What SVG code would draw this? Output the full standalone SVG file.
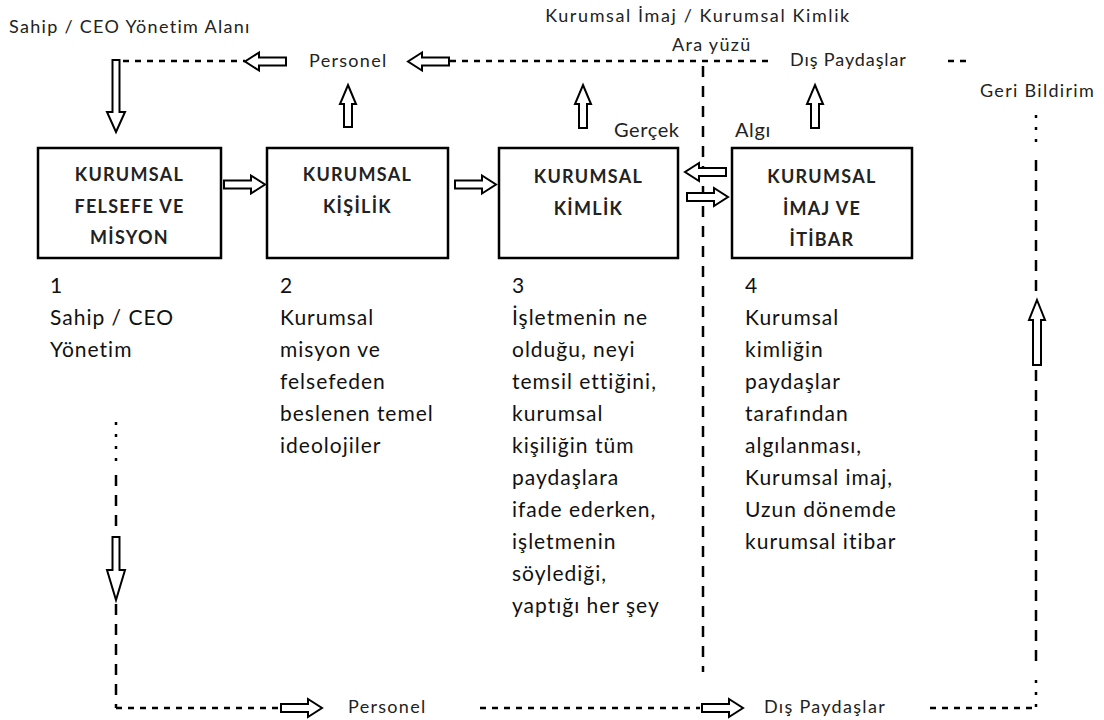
<svg xmlns="http://www.w3.org/2000/svg" width="1104" height="720" viewBox="0 0 1104 720">
  <defs>
    <style>
      .bg { fill: #ffffff; }
      .box { fill: #ffffff; stroke: #000000; stroke-width: 2.5; }
      .boxlabel { font-family: Lato, "Noto Sans", sans-serif; font-weight: 700; font-size: 18px; letter-spacing: 1.3px; fill: #222222; text-anchor: middle; }
      .desc { font-family: Lato, "Noto Sans", sans-serif; font-size: 21px; letter-spacing: 1px; fill: #111111; }
      .label { font-family: Lato, "Noto Sans", sans-serif; font-size: 18px; letter-spacing: 1.3px; fill: #222222; }
      .label-lg { font-family: Lato, "Noto Sans", sans-serif; font-size: 20px; letter-spacing: 0.6px; fill: #222222; }
      .blk { fill: #ffffff; stroke: #000000; stroke-width: 2; stroke-linejoin: miter; }
      .dash { fill: none; stroke: #000000; stroke-width: 2.5; stroke-dasharray: 6 6; }
      .vdash { fill: none; stroke: #000000; stroke-width: 2.5; stroke-dasharray: 11 9; }
      .dots { fill: none; stroke: #000000; stroke-width: 2.5; stroke-dasharray: 3 9; }
    </style>
    <!-- block arrow pointing right, 41 long, origin at tail centre -->
    <path id="arrowR" d="M0,-4 H27 V-9 L41,0 L27,9 V4 H0 Z"/>
  </defs>

  <rect class="bg" x="0" y="0" width="1104" height="720"/>

  <!-- free labels -->
  <g id="labels">
    <text class="label" x="9" y="33">Sahip / CEO Yönetim Alanı</text>
    <text class="label" x="698" y="22" text-anchor="middle" style="letter-spacing:1.6px">Kurumsal İmaj / Kurumsal Kimlik</text>
    <text class="label" x="672" y="51">Ara yüzü</text>
    <text class="label" x="309" y="67">Personel</text>
    <text class="label" x="790" y="66" style="letter-spacing:0.9px">Dış Paydaşlar</text>
    <text class="label" x="980" y="97">Geri Bildirim</text>
    <text class="label-lg" x="614" y="137">Gerçek</text>
    <text class="label-lg" x="735" y="137">Algı</text>
    <text class="label" x="348" y="713">Personel</text>
    <text class="label" x="764" y="713">Dış Paydaşlar</text>
  </g>

  <!-- connectors: dashed feedback loops and block arrows -->
  <g id="connectors">
    <path class="dash" d="M123,61 H245"/>
    <path class="dash" d="M450,61 H768"/>
    <path class="dash" d="M948,61 H972"/>
    <path class="vdash" d="M703,66 V672"/>
    <path class="dots" d="M1036,115 V150"/>
    <path class="vdash" d="M1036,160 V298"/>
    <path class="vdash" d="M1036,370 V670"/>
    <path class="dots" d="M1036,680 V708"/>
    <path class="dots" d="M116,422 V470"/>
    <path class="vdash" d="M116,475 V535"/>
    <path class="vdash" d="M116,604 V708"/>
    <path class="dash" d="M116,708 H281"/>
    <path class="dash" d="M480,708 H700"/>
    <path class="dash" d="M930,708 H1036"/>

    <!-- vertical block arrows -->
    <path class="blk" d="M112.5,60 H119.5 V112 H125 L116,132 L107,112 H112.5 Z"/>
    <path class="blk" d="M348,85 L356,104 H352 V127 H344 V104 H340 Z"/>
    <path class="blk" d="M583,85 L591,104 H587 V128 H579 V104 H575 Z"/>
    <path class="blk" d="M815,85 L823,104 H819 V128 H811 V104 H807 Z"/>
    <path class="blk" d="M1037,300 L1045,320 H1041 V365 H1033 V320 H1029 Z"/>
    <path class="blk" d="M112.5,537 H119.5 V570 H125 L116,600 L107,570 H112.5 Z"/>

    <!-- horizontal block arrows -->
    <use href="#arrowR" class="blk" transform="translate(286,61.5) scale(-1,1)"/>
    <use href="#arrowR" class="blk" transform="translate(449,61.5) scale(-1,1)"/>
    <use href="#arrowR" class="blk" transform="translate(224,184.5)"/>
    <use href="#arrowR" class="blk" transform="translate(455,184.5)"/>
    <use href="#arrowR" class="blk" transform="translate(726,172) scale(-1,1)"/>
    <use href="#arrowR" class="blk" transform="translate(687,197)"/>
    <use href="#arrowR" class="blk" transform="translate(281,708)"/>
    <use href="#arrowR" class="blk" transform="translate(702,708)"/>
  </g>

  <!-- stage 1 -->
  <g id="node-felsefe">
    <rect class="box" x="38" y="148" width="183" height="110"/>
    <text class="boxlabel" x="129.5" y="181">KURUMSAL</text>
    <text class="boxlabel" x="129.5" y="213">FELSEFE VE</text>
    <text class="boxlabel" x="129.5" y="244">MİSYON</text>
    <text class="desc" x="50" y="293">1</text>
    <text class="desc" x="50" y="325">Sahip / CEO</text>
    <text class="desc" x="50" y="357">Yönetim</text>
  </g>

  <!-- stage 2 -->
  <g id="node-kisilik">
    <rect class="box" x="267" y="148" width="181" height="110"/>
    <text class="boxlabel" x="357.5" y="181">KURUMSAL</text>
    <text class="boxlabel" x="357.5" y="213">KİŞİLİK</text>
    <text class="desc" x="280" y="293">2</text>
    <text class="desc" x="280" y="325">Kurumsal</text>
    <text class="desc" x="280" y="357">misyon ve</text>
    <text class="desc" x="280" y="389">felsefeden</text>
    <text class="desc" x="280" y="421">beslenen temel</text>
    <text class="desc" x="280" y="453">ideolojiler</text>
  </g>

  <!-- stage 3 -->
  <g id="node-kimlik">
    <rect class="box" x="499" y="148" width="179" height="110"/>
    <text class="boxlabel" x="588.5" y="183">KURUMSAL</text>
    <text class="boxlabel" x="588.5" y="215">KİMLİK</text>
    <text class="desc" x="512" y="293">3</text>
    <text class="desc" x="512" y="325">İşletmenin ne</text>
    <text class="desc" x="512" y="357">olduğu, neyi</text>
    <text class="desc" x="512" y="389">temsil ettiğini,</text>
    <text class="desc" x="512" y="421">kurumsal</text>
    <text class="desc" x="512" y="453">kişiliğin tüm</text>
    <text class="desc" x="512" y="485">paydaşlara</text>
    <text class="desc" x="512" y="517">ifade ederken,</text>
    <text class="desc" x="512" y="549">işletmenin</text>
    <text class="desc" x="512" y="581">söylediği,</text>
    <text class="desc" x="512" y="613">yaptığı her şey</text>
  </g>

  <!-- stage 4 -->
  <g id="node-imaj">
    <rect class="box" x="732" y="148" width="180" height="110"/>
    <text class="boxlabel" x="822" y="183">KURUMSAL</text>
    <text class="boxlabel" x="822" y="215">İMAJ VE</text>
    <text class="boxlabel" x="822" y="246">İTİBAR</text>
    <text class="desc" x="745" y="293">4</text>
    <text class="desc" x="745" y="325">Kurumsal</text>
    <text class="desc" x="745" y="357">kimliğin</text>
    <text class="desc" x="745" y="389">paydaşlar</text>
    <text class="desc" x="745" y="421">tarafından</text>
    <text class="desc" x="745" y="453">algılanması,</text>
    <text class="desc" x="745" y="485">Kurumsal imaj,</text>
    <text class="desc" x="745" y="517">Uzun dönemde</text>
    <text class="desc" x="745" y="549">kurumsal itibar</text>
  </g>
</svg>
